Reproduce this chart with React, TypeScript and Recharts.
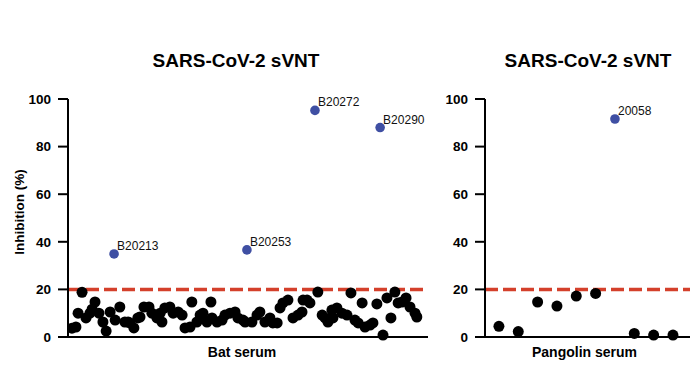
import { ScatterChart, Scatter, XAxis, YAxis, ReferenceLine } from 'recharts';

// bat serum samples: jittered column position (0-100) and % inhibition
const batX = [
  1.1, 2.2, 2.8, 3.9, 5.0, 6.1, 6.7, 7.5, 8.6, 9.7, 10.6, 11.7, 13.1, 14.4, 15.8, 16.7,
  17.2, 18.3, 19.4, 20.0, 21.1, 22.5, 23.3, 24.7, 25.6, 26.1, 26.9, 28.3, 29.2, 30.6,
  31.7, 32.5, 33.9, 34.4, 35.8, 36.7, 37.5, 38.6, 39.7, 40.0, 41.4, 42.8, 43.6, 45.0,
  46.4, 47.2, 48.6, 49.2, 51.1, 52.5, 53.3, 54.7, 56.1, 56.9, 58.1, 58.9, 59.7, 61.1,
  62.5, 63.9, 65.0, 65.3, 66.4, 67.2, 69.4, 70.6, 71.4, 72.2, 73.3, 73.6, 74.7, 76.1,
  77.5, 78.6, 79.7, 80.6, 81.7, 82.5, 83.9, 84.7, 85.8, 87.5, 88.6, 89.7, 90.8, 91.7,
  92.8, 93.9, 95.0, 96.4, 96.9,
];
const batY = [
  3.7, 4.2, 10, 18.8, 8, 10, 11.7, 14.7, 10, 6.3, 2.5, 10.5, 7.1, 12.6, 6.3, 6.3,
  5.9, 3.8, 8, 8.4, 12.6, 12.6, 10, 8, 10, 6.3, 12.2, 12.6, 10, 10.5,
  9.2, 3.8, 4.2, 14.7, 6.3, 9.2, 10, 6.3, 14.7, 8, 6.3, 7.1, 9.2, 10,
  10.5, 8, 7.1, 6.3, 6.3, 9.2, 10.5, 6.3, 8, 5.9, 5.9, 12.2, 14.3, 15.5,
  8, 9.2, 10.5, 15.5, 15.5, 14.3, 18.9, 9.2, 8, 6.3, 11.3, 8, 12.2, 10,
  9.2, 18.5, 7.1, 5.9, 14.3, 4.2, 5, 5.9, 13.9, 0.8, 16.4, 8, 18.9, 14.3,
  14.7, 16.4, 12.6, 10, 8.4,
];
const batHitX = [12.8, 49.7, 68.6, 86.7];
const batHitY = [34.9, 36.6, 95.2, 88.0];
const batHitNames = ['B20213', 'B20253', 'B20272', 'B20290'];

// pangolin serum samples
const pangolinX = [1, 2, 3, 4, 5, 6, 8, 9, 10];
const pangolinY = [4.5, 2.3, 14.7, 13, 17.2, 18.3, 1.5, 0.8, 0.8];
const pangolinHitX = [7];
const pangolinHitY = [91.6];
const pangolinHitNames = ['20058'];

const yTicks = [0, 20, 40, 60, 80, 100];
const cutoff = 20;
const title = 'SARS-CoV-2 sVNT';

const font = '"Liberation Sans", Arial, sans-serif';

const toPoints = (xs: number[], ys: number[], names?: string[]) =>
  xs.map((x, i) => ({ x, y: ys[i], name: names ? names[i] : '' }));

const BlackDot = (props: any) => <circle cx={props.cx} cy={props.cy} r={5.5} fill="#000" />;

const HitDot = (props: any) => (
  <g>
    <circle cx={props.cx} cy={props.cy} r={4.8} fill="#3F4FA3" />
    <text x={props.cx + 3} y={props.cy - 4} fontSize={12} fill="#111" fontFamily={font}>
      {props.payload.name}
    </text>
  </g>
);

const axisStroke = { stroke: '#000', strokeWidth: 2 };

const Panel = ({ left, width, yWidth, marginLeft, marginRight, xDomain, points, hits, xLabel, xLabelDx }: any) => (
  <ScatterChart
    width={width}
    height={389}
    margin={{ top: 99, right: marginRight, bottom: 22, left: marginLeft }}
    style={{ position: 'absolute', left, top: 0, fontFamily: font }}
  >
    <XAxis
      type="number"
      dataKey="x"
      domain={xDomain}
      allowDataOverflow
      tick={false}
      tickLine={false}
      axisLine={axisStroke}
      height={30}
      label={{ value: xLabel, position: 'insideTop', offset: 10, dx: xLabelDx, fill: '#000', fontSize: 14, fontWeight: 'bold' }}
    />
    <YAxis
      type="number"
      dataKey="y"
      domain={[0, 100]}
      ticks={yTicks}
      width={yWidth}
      tickSize={10}
      tickMargin={7}
      axisLine={axisStroke}
      tickLine={axisStroke}
      tick={{ fill: '#000', fontSize: 13.5, fontWeight: 'bold' }}
    />
    <ReferenceLine y={cutoff} stroke="#D4402B" strokeWidth={3.5} strokeDasharray="13 5" />
    <Scatter data={points} shape={BlackDot} isAnimationActive={false} />
    <Scatter data={hits} shape={HitDot} isAnimationActive={false} />
  </ScatterChart>
);

export default function App() {
  return (
    <div style={{ position: 'absolute', left: 0, top: 0, width: 699, height: 389, background: '#fff' }}>
      <Panel
        left={0}
        width={440}
        yWidth={58}
        marginLeft={10}
        marginRight={12}
        xDomain={[0, 100]}
        points={toPoints(batX, batY)}
        hits={toPoints(batHitX, batHitY, batHitNames)}
        xLabel="Bat serum"
        xLabelDx={-6}
      />
      <Panel
        left={440}
        width={259}
        yWidth={45}
        marginLeft={0}
        marginRight={9}
        xDomain={[0.28, 10.88]}
        points={toPoints(pangolinX, pangolinY)}
        hits={toPoints(pangolinHitX, pangolinHitY, pangolinHitNames)}
        xLabel="Pangolin serum"
        xLabelDx={-3}
      />
      <svg
        width={699}
        height={389}
        style={{ position: 'absolute', left: 0, top: 0, pointerEvents: 'none' }}
        fontFamily={font}
      >
        <text x={236} y={67} textAnchor="middle" fontSize={19} fontWeight="bold" fill="#000">{title}</text>
        <text x={588} y={67} textAnchor="middle" fontSize={19} fontWeight="bold" fill="#000">{title}</text>
        <text x={24} y={212} textAnchor="middle" fontSize={13.5} fontWeight="bold" fill="#000" transform="rotate(-90 24 212)">
          Inhibition (%)
        </text>
      </svg>
    </div>
  );
}
